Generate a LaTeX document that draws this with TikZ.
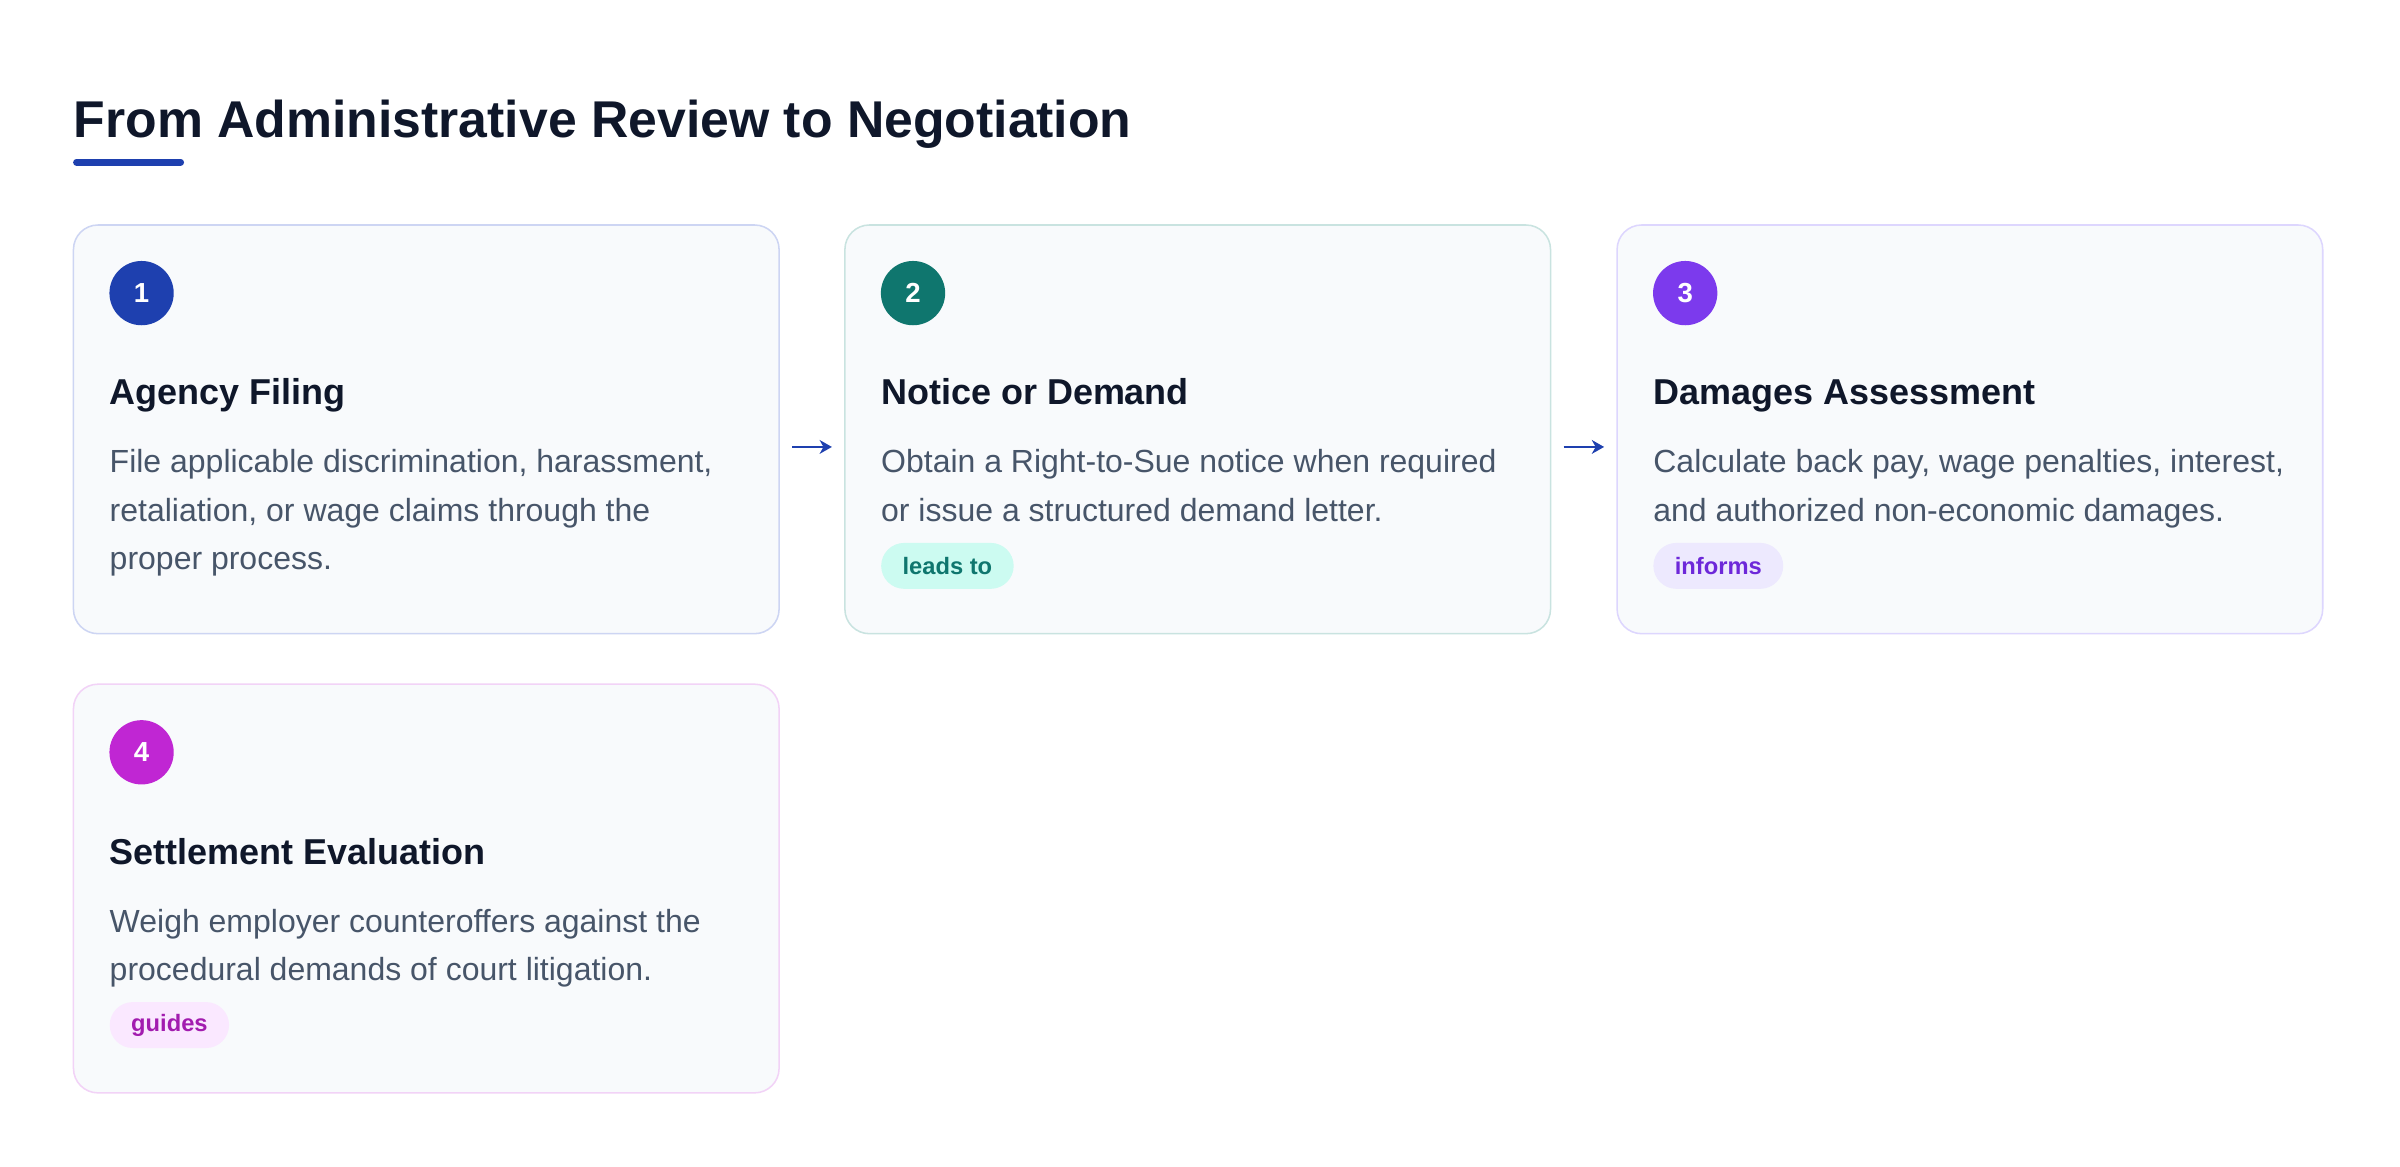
\documentclass[tikz,border=0pt]{standalone}
\usepackage{fontspec}
\setmainfont{Liberation Sans}
\usetikzlibrary{calc,arrows.meta,positioning}

\definecolor{ink}{HTML}{0F172A}
\definecolor{slate}{HTML}{475569}
\definecolor{cardbg}{HTML}{F8FAFC}
\definecolor{blueA}{HTML}{1E40AF}
\definecolor{tealA}{HTML}{0F766E}
\definecolor{violetA}{HTML}{7C3AED}
\definecolor{pinkA}{HTML}{C026D3}
\definecolor{blueL}{HTML}{CDD5F3}
\definecolor{tealL}{HTML}{C9E3E0}
\definecolor{violetL}{HTML}{DDD6FE}
\definecolor{pinkL}{HTML}{F2D3F7}
\definecolor{tealT}{HTML}{CCFBF1}
\definecolor{violetT}{HTML}{EDE9FE}
\definecolor{violetD}{HTML}{6D28D9}
\definecolor{pinkT}{HTML}{FAE8FF}
\definecolor{pinkD}{HTML}{A21CAF}

\tikzset{
  card/.style={draw=#1, fill=cardbg, line width=1, rounded corners=16,
    minimum width=461, minimum height=267, inner sep=0},
  badge/.style={circle, fill=#1, minimum size=42, inner sep=0, text=white,
    font=\bfseries\fontsize{18}{18}\selectfont},
  heading/.style={anchor=base west, inner sep=0, text=ink,
    font=\bfseries\fontsize{23.5}{28}\selectfont},
  body/.style={anchor=base west, inner sep=0, text=slate, align=left,
    font=\fontsize{20.9}{31.5}\selectfont},
  tagpill/.style={anchor=north west, fill=#1, rounded corners=15,
    minimum height=30, inner xsep=14, inner ysep=0,
    font=\bfseries\fontsize{15.5}{18}\selectfont},
  flow/.style={draw=blueA, line width=1.4, -{Stealth[length=8, width=9, inset=2.5]}}
}

\begin{document}
\begin{tikzpicture}[x=1pt, y=-1pt]
	%%%%% START %%%%%
	\useasboundingbox[fill=white] (0, 0) rectangle (1568, 762);

	\node[anchor=base west, inner sep=0, text=ink, font=\bfseries\fontsize{33.8}{40}\selectfont] (title) at (48, 90) {From Administrative Review to Negotiation};
	\draw[blueA, line width=4.5, line cap=round] (50, 106) -- (118, 106);

	\node[card=blueL] (c1) at (278.5, 280.5) {};
	\node[card=tealL] (c2) at (782.5, 280.5) {};
	\node[card=violetL] (c3) at (1287, 280.5) {};
	\node[card=pinkL] (c4) at (278.5, 580.5) {};

	\node[badge=blueA] (b1) at ($(c1.north west)+(45, 45)$) {1};
	\node[badge=tealA] (b2) at ($(c2.north west)+(45, 45)$) {2};
	\node[badge=violetA] (b3) at ($(c3.north west)+(45, 45)$) {3};
	\node[badge=pinkA] (b4) at ($(c4.north west)+(45, 45)$) {4};

	\node[heading] (h1) at ($(c1.north west)+(24, 118)$) {Agency Filing};
	\node[heading] (h2) at ($(c2.north west)+(24, 118)$) {Notice or Demand};
	\node[heading] (h3) at ($(c3.north west)+(24, 118)$) {Damages Assessment};
	\node[heading] (h4) at ($(c4.north west)+(24, 118)$) {Settlement Evaluation};

	% base anchor sits on the last line
	\node[body] (t1) at ($(c1.north west)+(24, 225.5)$) {File applicable discrimination, harassment,\\retaliation, or wage claims through the\\proper process.};
	\node[body] (t2) at ($(c2.north west)+(24, 194)$) {Obtain a Right-to-Sue notice when required\\or issue a structured demand letter.};
	\node[body] (t3) at ($(c3.north west)+(24, 194)$) {Calculate back pay, wage penalties, interest,\\and authorized non-economic damages.};
	\node[body] (t4) at ($(c4.north west)+(24, 194)$) {Weigh employer counteroffers against the\\procedural demands of court litigation.};

	\node[tagpill=tealT, text=tealA] (g2) at ($(c2.north west)+(24, 208)$) {leads to};
	\node[tagpill=violetT, text=violetD] (g3) at ($(c3.north west)+(24, 208)$) {informs};
	\node[tagpill=pinkT, text=pinkD] (g4) at ($(c4.north west)+(24, 208)$) {guides};

	\draw[flow] ($(c1.east)+(8, 11.5)$) -- ($(c2.west)+(-8, 11.5)$);
	\draw[flow] ($(c2.east)+(8, 11.5)$) -- ($(c3.west)+(-8, 11.5)$);
	%%%%% END %%%%%
\end{tikzpicture}
\end{document}
